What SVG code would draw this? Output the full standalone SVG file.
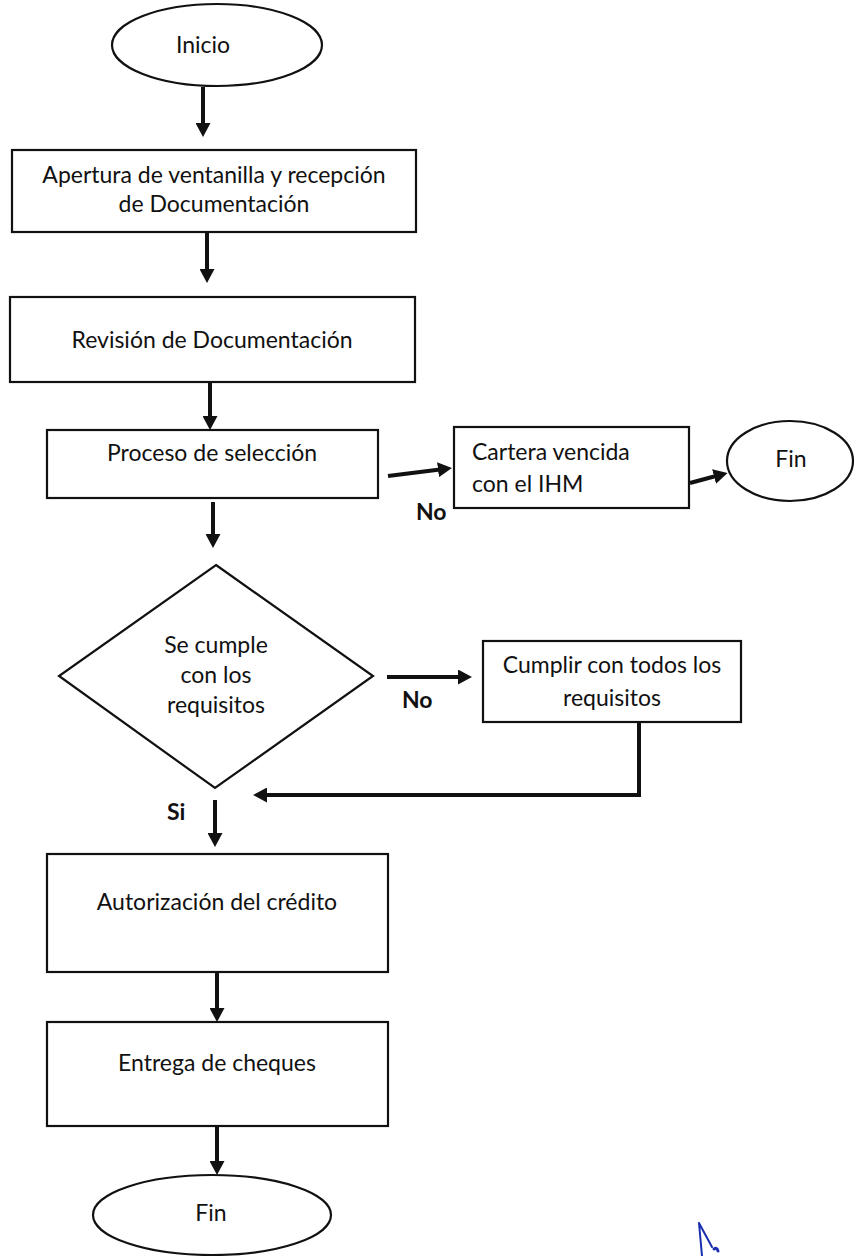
<svg xmlns="http://www.w3.org/2000/svg" width="858" height="1256" viewBox="0 0 858 1256">
<defs>
<style>
.shape{fill:#fff;stroke:#111;stroke-width:2.2}
.t{font-family:Lato,"Open Sans","Liberation Sans",sans-serif;font-size:23px;fill:#111}
.c{text-anchor:middle}
.b{font-weight:bold}
.conn{stroke:#111;stroke-width:4;fill:none}
</style>
<marker id="ah" markerUnits="userSpaceOnUse" viewBox="0 0 14 15" refX="2" refY="7.5" markerWidth="14" markerHeight="15" orient="auto">
<path d="M0,0 L14,7.5 L0,15 z" fill="#111"/>
</marker>
</defs>
<rect width="858" height="1256" fill="#fff"/>

<g id="inicio">
<ellipse class="shape" cx="217" cy="45" rx="105" ry="41"/>
<text class="t c" x="203" y="53">Inicio</text>
</g>
<g id="apertura">
<rect class="shape" x="12" y="150" width="404" height="82"/>
<text class="t c" x="214" y="183">Apertura de ventanilla y recepción</text>
<text class="t c" x="214" y="212">de Documentación</text>
</g>
<g id="revision">
<rect class="shape" x="10" y="297" width="405" height="85"/>
<text class="t c" x="212" y="348">Revisión de Documentación</text>
</g>
<g id="proceso">
<rect class="shape" x="47" y="430" width="331" height="68"/>
<text class="t c" x="212" y="461">Proceso de selección</text>
</g>
<g id="cartera">
<rect class="shape" x="454" y="427" width="235" height="81"/>
<text class="t" x="472" y="460">Cartera vencida</text>
<text class="t" x="472" y="492">con el IHM</text>
</g>
<g id="fin1">
<ellipse class="shape" cx="790" cy="461" rx="63" ry="40"/>
<text class="t c" x="791" y="467">Fin</text>
</g>
<g id="decision">
<polygon class="shape" points="216,565 373,676 215,788 59,676"/>
<text class="t c" x="216" y="653">Se cumple</text>
<text class="t c" x="216" y="683">con los</text>
<text class="t c" x="216" y="713">requisitos</text>
</g>
<g id="cumplir">
<rect class="shape" x="483" y="641" width="258" height="81"/>
<text class="t c" x="612" y="673">Cumplir con todos los</text>
<text class="t c" x="612" y="706">requisitos</text>
</g>
<g id="autorizacion">
<rect class="shape" x="47" y="854" width="341" height="118"/>
<text class="t c" x="217" y="910">Autorización del crédito</text>
</g>
<g id="entrega">
<rect class="shape" x="47" y="1022" width="341" height="104"/>
<text class="t c" x="217" y="1071">Entrega de cheques</text>
</g>
<g id="fin2">
<ellipse class="shape" cx="212" cy="1215" rx="119" ry="40"/>
<text class="t c" x="211" y="1221">Fin</text>
</g>

<g id="connectors">
<line class="conn" x1="203" y1="87" x2="203" y2="125" marker-end="url(#ah)"/>
<line class="conn" x1="207" y1="233" x2="207" y2="271" marker-end="url(#ah)"/>
<line class="conn" x1="210" y1="383" x2="210" y2="418" marker-end="url(#ah)"/>
<line class="conn" x1="213" y1="502" x2="213" y2="536" marker-end="url(#ah)"/>
<line class="conn" x1="388" y1="476" x2="440" y2="469.5" marker-end="url(#ah)"/>
<line class="conn" x1="690" y1="483" x2="716" y2="476" marker-end="url(#ah)"/>
<line class="conn" x1="387" y1="677" x2="460" y2="677" marker-end="url(#ah)"/>
<polyline class="conn" points="639,722 639,795 265,795" marker-end="url(#ah)"/>
<line class="conn" x1="215" y1="800" x2="215" y2="835" marker-end="url(#ah)"/>
<line class="conn" x1="217" y1="973" x2="217" y2="1010" marker-end="url(#ah)"/>
<line class="conn" x1="217" y1="1127" x2="217" y2="1163" marker-end="url(#ah)"/>
<text class="t b" x="416" y="520">No</text>
<text class="t b" x="402" y="708">No</text>
<text class="t b" x="167" y="820">Si</text>
</g>

<g id="mark" fill="none" stroke="#1a2fb0" stroke-width="2" stroke-linecap="round">
<path d="M699,1223 L702,1256 M699,1223 L712,1247"/>
<path d="M714,1249 q3,-2 4,2" stroke-width="3"/>
</g>
</svg>
